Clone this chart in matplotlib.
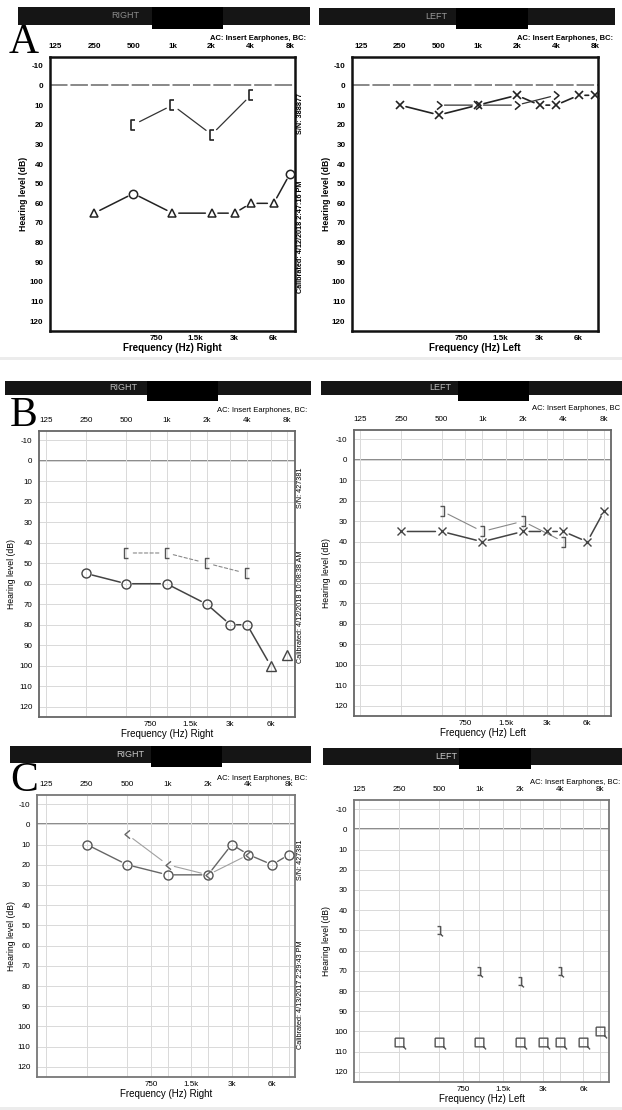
import matplotlib
matplotlib.use("Agg")
import matplotlib.pyplot as plt
from matplotlib.path import Path
from matplotlib.patches import Rectangle

plt.rcParams['font.family'] = ['Liberation Sans', 'DejaVu Sans']

# ---- data -------------------------------------------------------------
oct_freqs = [125, 250, 500, 1000, 2000, 4000, 8000]
oct_labels = ['125', '250', '500', '1k', '2k', '4k', '8k']
half_freqs = [750, 1500, 3000, 6000]
half_labels = ['750', '1.5k', '3k', '6k']
db_ticks = list(range(-10, 121, 10))

ac_freqs = [250, 500, 1000, 2000, 3000, 4000, 6000, 8000]
bc_freqs = [500, 1000, 2000, 4000]

# A
a_right_ac = [65, 55, 65, 65, 65, 60, 60, 45]
a_right_ac_sym = ['tri', 'o', 'tri', 'tri', 'tri', 'tri', 'tri', 'o']
a_right_bc = [20, 10, 25, 5]
a_left_ac = [10, 15, 10, 5, 10, 10, 5, 5]
a_left_bc = [10, 10, 10, 5]

# B
b_right_ac = [55, 60, 60, 70, 80, 80, 100, 95]
b_right_ac_sym = ['o', 'o', 'o', 'o', 'o', 'o', 'tri', 'tri']
b_right_bc = [45, 45, 50, 55]
b_left_ac = [35, 35, 40, 35, 35, 35, 40, 25]
b_left_bc = [25, 35, 30, 40]

# C
c_right_ac = [10, 20, 25, 25, 10, 15, 20, 15]
c_right_bc = [5, 20, 25, 15]
c_left_ac = [105, 105, 105, 105, 105, 105, 105, 100]
c_left_bc = [50, 70, 75, 70]

serials = {'A': 'S/N: 388877', 'B': 'S/N: 427381', 'C': 'S/N: 427381'}
calibrated = {'A': 'Calibrated: 4/12/2018 2:47:16 PM',
              'B': 'Calibrated: 4/12/2018 10:08:38 AM',
              'C': 'Calibrated: 4/13/2017 2:29:43 PM'}

# ---- marker shapes ----------------------------------------------------
M, L = Path.MOVETO, Path.LINETO
br_open_r = Path([(0.5, 1), (-0.5, 1), (-0.5, -1), (0.5, -1)], [M, L, L, L])    # [
br_open_l = Path([(-0.5, 1), (0.5, 1), (0.5, -1), (-0.5, -1)], [M, L, L, L])    # ]
chev_r = Path([(0.6, 1), (-0.6, 0), (0.6, -1)], [M, L, L])                      # <
chev_l = Path([(-0.6, 1), (0.6, 0), (-0.6, -1)], [M, L, L])                     # >
square_nr = Path([(-1, 1), (1, 1), (1, -1), (-1, -1), (-1, 1), (1, -1), (1.5, -1.6)],
                 [M, L, L, L, L, M, L])
bracket_nr = Path([(-0.5, 1), (0.3, 1), (0.3, -1), (-0.5, -1), (0.3, -1), (0.9, -1.5)],
                  [M, L, L, L, M, L])

W, H = 622, 1110
fig = plt.figure(figsize=(W / 100, H / 100), dpi=100)
fig.patch.set_facecolor('white')


def px_axes(l, t, r, b):
    return fig.add_axes([l / W, 1 - b / H, (r - l) / W, (b - t) / H])


def setup(ax, side, lo, hi, grid, frame, zero, bold, ylab_x):
    fw = 'bold' if bold else 'normal'
    ax.set_xscale('log', base=2)
    ax.set_xlim(125 * 2 ** -lo, 8000 * 2 ** hi)
    ax.set_ylim(125, -14.5)
    ax.set_xticks(oct_freqs, labels=oct_labels, fontweight=fw)
    ax.set_xticks(half_freqs, labels=half_labels, minor=True, fontweight=fw)
    ax.set_yticks(db_ticks, labels=[str(v) for v in db_ticks], fontweight=fw)
    ax.tick_params(axis='x', which='major', top=False, bottom=False,
                   labeltop=True, labelbottom=False, pad=1.5, labelsize=5.8)
    ax.tick_params(axis='x', which='minor', top=False, bottom=False,
                   labeltop=False, labelbottom=True, pad=1.0, labelsize=5.8)
    ax.tick_params(axis='y', left=False, pad=1.2, labelsize=5.8)
    if grid:
        ax.grid(True, which='both', axis='x', color='#d9d9d9', lw=0.7)
        ax.grid(True, which='major', axis='y', color='#d9d9d9', lw=0.7)
        ax.axhline(0, color=zero, lw=1.4, zorder=1.5)
    else:
        ax.axhline(0, color=zero, lw=1.4, ls=(0, (9, 1.5)), zorder=1.5)
    for s in ax.spines.values():
        s.set_color(frame)
        s.set_linewidth(1.8 if bold else 1.3)
    ax.set_xlabel(f'Frequency (Hz) {side}', fontsize=7, labelpad=0.8, fontweight=fw)
    ax.set_ylabel('Hearing level (dB)', fontsize=6.2, fontweight=fw)
    ax.yaxis.set_label_coords(ylab_x, 0.5)


def connect(ax, freqs, dbs, color, lw=1.0, ls='-', shrink=4.5, skip=()):
    for i in range(len(freqs) - 1):
        if i in skip:
            continue
        ax.annotate('', xy=(freqs[i + 1], dbs[i + 1]), xytext=(freqs[i], dbs[i]),
                    arrowprops=dict(arrowstyle='-', color=color, lw=lw, ls=ls,
                                    shrinkA=shrink, shrinkB=shrink))


def symbols(ax, freqs, dbs, syms, color, size, mew=1.0):
    for f, d, s in zip(freqs, dbs, syms):
        mk = '^' if s == 'tri' else s
        ax.plot([f], [d], marker=mk, ms=size, mfc='none', mec=color, mew=mew,
                ls='none', zorder=4, clip_on=False)


# ---- A ----------------------------------------------------------------
ax = px_axes(50, 57, 295, 331)
setup(ax, 'Right', 0.13, 0.13, False, '#111111', '#888888', True, -0.09)
connect(ax, ac_freqs, a_right_ac, '#222222', lw=1.1)
symbols(ax, ac_freqs, a_right_ac, a_right_ac_sym, '#222222', 6, 1.1)
connect(ax, bc_freqs, a_right_bc, '#333333', lw=0.9, shrink=5)
symbols(ax, bc_freqs, a_right_bc, [br_open_r] * 4, '#222222', 7, 1.2)

ax = px_axes(352, 57, 598, 331)
setup(ax, 'Left', 0.23, 0.08, False, '#111111', '#888888', True, -0.085)
connect(ax, ac_freqs, a_left_ac, '#222222', lw=1.2)
symbols(ax, ac_freqs, a_left_ac, ['x'] * 8, '#222222', 5.5, 1.2)
connect(ax, bc_freqs, a_left_bc, '#333333', lw=0.9, shrink=4)
symbols(ax, bc_freqs, a_left_bc, [chev_l] * 4, '#222222', 6, 1.1)

# ---- B ----------------------------------------------------------------
ax = px_axes(39, 431, 295, 717)
setup(ax, 'Right', 0.17, 0.19, True, '#666666', '#8a8a8a', False, -0.09)
connect(ax, ac_freqs, b_right_ac, '#444444', lw=1.1, skip=(6,))
symbols(ax, ac_freqs, b_right_ac, b_right_ac_sym, '#444444', 6.5, 1.0)
connect(ax, bc_freqs, b_right_bc, '#888888', lw=0.8, ls=(0, (3, 2)), shrink=5)
symbols(ax, bc_freqs, b_right_bc, [br_open_r] * 4, '#555555', 6.5, 1.0)

ax = px_axes(354, 430, 611, 716)
setup(ax, 'Left', 0.16, 0.17, True, '#666666', '#8a8a8a', False, -0.09)
connect(ax, ac_freqs, b_left_ac, '#444444', lw=1.1)
symbols(ax, ac_freqs, b_left_ac, ['x'] * 8, '#444444', 5.5, 1.0)
connect(ax, bc_freqs, b_left_bc, '#888888', lw=0.8, shrink=5)
symbols(ax, bc_freqs, b_left_bc, [br_open_l] * 4, '#555555', 6.5, 1.0)

# ---- C ----------------------------------------------------------------
ax = px_axes(37, 795, 295, 1077)
setup(ax, 'Right', 0.23, 0.15, True, '#777777', '#8a8a8a', False, -0.08)
connect(ax, ac_freqs, c_right_ac, '#666666', lw=1.0)
symbols(ax, ac_freqs, c_right_ac, ['o'] * 8, '#555555', 6.5, 1.0)
connect(ax, bc_freqs, c_right_bc, '#a0a0a0', lw=0.8, shrink=5)
symbols(ax, bc_freqs, c_right_bc, [chev_r] * 4, '#666666', 6, 1.0)

ax = px_axes(354, 800, 609, 1082)
setup(ax, 'Left', 0.12, 0.22, True, '#777777', '#8a8a8a', False, -0.09)
symbols(ax, ac_freqs, c_left_ac, [square_nr] * 8, '#555555', 10, 1.0)
symbols(ax, bc_freqs, c_left_bc, [bracket_nr] * 4, '#555555', 8.5, 1.0)

# ---- page decorations (pixel coordinates) -----------------------------
ov = fig.add_axes([0, 0, 1, 1])
ov.set_xlim(0, W)
ov.set_ylim(H, 0)
ov.axis('off')
ov.patch.set_visible(False)

headers = [
    # bar x0, x1, y0, y1 | tab x0, x1, y1 | label x, text, colour, AC text right, AC y
    (18, 310, 7, 25, 152, 223, 29, 125, 'RIGHT', '#8c8c8c', 306, 38),
    (319, 615, 8, 25, 456, 528, 29, 436, 'LEFT', '#9a9a9a', 613, 38),
    (5, 311, 381, 395, 147, 218, 401, 123, 'RIGHT', '#bdbdbd', 307, 410),
    (321, 622, 381, 395, 458, 529, 401, 440, 'LEFT', '#bdbdbd', 620, 409),
    (10, 311, 746, 763, 151, 222, 767, 130, 'RIGHT', '#c8c8c8', 307, 779),
    (323, 622, 748, 765, 459, 531, 769, 446, 'LEFT', '#c8c8c8', 620, 782),
]
for i, (x0, x1, y0, y1, tx0, tx1, ty1, lx, txt, tc, acx, acy) in enumerate(headers):
    ov.add_patch(Rectangle((x0, y0), x1 - x0, y1 - y0, color='#151515', lw=0))
    ov.add_patch(Rectangle((tx0, y0), tx1 - tx0, ty1 - y0, color='black', lw=0))
    ov.text(lx, (y0 + y1) / 2, txt, color=tc, fontsize=6.5, ha='center', va='center')
    fw = 'bold' if i < 2 else 'normal'
    ac_txt = 'AC: Insert Earphones, BC:' if i != 3 else 'AC: Insert Earphones, BC'
    ov.text(acx, acy, ac_txt, fontsize=5.5, ha='right', va='center', fontweight=fw)

# side texts on the right-ear panels
for key, x, sn_y, cal_y in [('A', 301, 113, 237), ('B', 300, 488, 607), ('C', 300, 860, 995)]:
    fw = 'bold' if key == 'A' else 'normal'
    ov.text(x, sn_y, serials[key], rotation=90, fontsize=5.2, ha='center', va='center', fontweight=fw)
    ov.text(x, cal_y, calibrated[key], rotation=90, fontsize=5.2, ha='center', va='center', fontweight=fw)

# panel letters
for letter, x, y in [('A', 9, 53), ('B', 10, 426), ('C', 10, 791)]:
    ov.text(x, y, letter, fontsize=30, family='Liberation Serif', ha='left', va='baseline')

# light separators between rows
for y in [358, 1108]:
    ov.add_patch(Rectangle((0, y - 1.5), W, 3, color='#ececec', lw=0))

fig.savefig('out.png', dpi=100)
